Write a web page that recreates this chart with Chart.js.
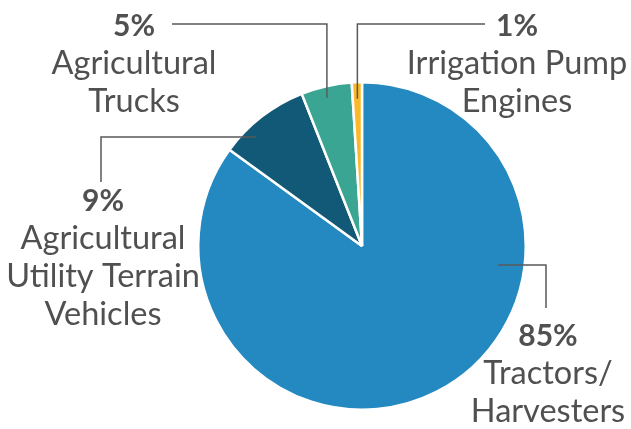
<!DOCTYPE html>
<html>
<head>
<meta charset="utf-8">
<script src="https://cdn.jsdelivr.net/npm/chart.js@4/dist/chart.umd.min.js"></script>
<style>
html,body{margin:0;padding:0;background:#fff;}
#wrap{position:relative;width:631px;height:429px;}
</style>
</head>
<body>
<div id="wrap"><canvas id="c" width="631" height="429"></canvas></div>
<script>
// ---- data ----
const categories = [
  ["Tractors/", "Harvesters"],
  ["Agricultural", "Utility Terrain", "Vehicles"],
  ["Agricultural", "Trucks"],
  ["Irrigation Pump", "Engines"]
];
const shares = [85, 9, 5, 1];
const colors = ["#2389c0", "#125877", "#3aa593", "#fbb829"];

// label styling / placement (relative to pie centre)
const labelLayout = [
  {pos: 0.32, r: 0.84, dir: "h", elbow: 184, end: 62,  tx: 186,  ty: 100},
  {pos: 0.30, r: 0.93, dir: "h", elbow: -261, end: -64, tx: -259, ty: -35},
  {pos: 0.46, r: 0.93, dir: "v", elbow: -222, end: -190, tx: -228, ty: -210},
  {pos: 0.50, r: 0.90, dir: "v", elbow: -222, end: 123, tx: 155,  ty: -210}
];

const labelPlugin = {
  id: "leaderLabels",
  afterDraw(chart) {
    const ctx = chart.ctx;
    const meta = chart.getDatasetMeta(0);
    const total = shares.reduce((a, b) => a + b, 0);
    meta.data.forEach((arc, i) => {
      const L = labelLayout[i];
      const p = arc.getProps(["x", "y", "startAngle", "endAngle", "outerRadius"], true);
      const ang = p.startAngle + (p.endAngle - p.startAngle) * L.pos;
      const sx = p.x + Math.cos(ang) * p.outerRadius * L.r;
      const sy = p.y + Math.sin(ang) * p.outerRadius * L.r;
      ctx.save();
      ctx.strokeStyle = "#5a5a5a";
      ctx.lineWidth = 1.5;
      ctx.beginPath();
      ctx.moveTo(sx, sy);
      if (L.dir === "v") {
        ctx.lineTo(sx, p.y + L.elbow);
        ctx.lineTo(p.x + L.end, p.y + L.elbow);
      } else {
        ctx.lineTo(p.x + L.elbow, sy);
        ctx.lineTo(p.x + L.elbow, p.y + L.end);
      }
      ctx.stroke();
      ctx.fillStyle = "#505050";
      ctx.textAlign = "center";
      ctx.textBaseline = "alphabetic";
      const cx = p.x + L.tx;
      let by = p.y + L.ty;
      ctx.font = "bold 30px Lato";
      ctx.fillText(Math.round(shares[i] / total * 100) + "%", cx, by);
      ctx.font = "32.5px Lato";
      categories[i].forEach((line) => {
        by += 38;
        ctx.fillText(line, cx, by);
      });
      ctx.restore();
    });
  }
};

new Chart(document.getElementById("c"), {
  type: "pie",
  data: {
    labels: categories,
    datasets: [{
      data: shares,
      backgroundColor: colors,
      borderColor: "#ffffff",
      borderWidth: 2.5
    }]
  },
  options: {
    responsive: false,
    animation: false,
    layout: {padding: {left: 197, right: 104, top: 81, bottom: 18}},
    plugins: {legend: {display: false}, tooltip: {enabled: false}}
  },
  plugins: [labelPlugin]
});
</script>
</body>
</html>
